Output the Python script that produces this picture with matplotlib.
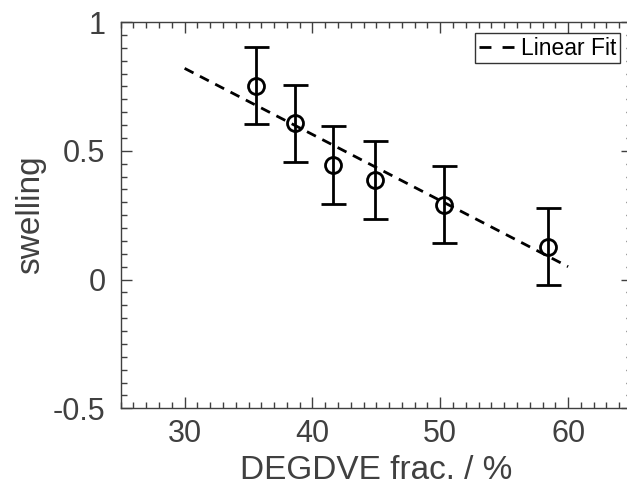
import numpy as np
import matplotlib
matplotlib.use("Agg")
import matplotlib.pyplot as plt
from matplotlib.lines import Line2D
from matplotlib.ticker import MultipleLocator, FuncFormatter

# data
degdve = [35.6, 38.6, 41.6, 44.9, 50.3, 58.4]
swelling = [0.753, 0.607, 0.445, 0.386, 0.290, 0.127]
swelling_err = [0.15, 0.15, 0.15, 0.15, 0.15, 0.15]
fit_x = [30, 60]
fit_y = [0.82, 0.05]

grey = '#404040'
plt.rcParams['font.family'] = ['Liberation Sans', 'DejaVu Sans']
plt.rcParams['axes.unicode_minus'] = False

fig = plt.figure(figsize=(6.27, 5.0), dpi=100)
ax = fig.add_axes([0.1925, 0.1834, 0.8155, 0.7726])

ax.plot(fit_x, fit_y, '--', color='black', lw=2, dashes=(3.6, 2.6))
ax.errorbar(degdve, swelling, yerr=swelling_err, fmt='o', mfc='none', mec='black',
            ms=11.5, mew=2, ecolor='black', elinewidth=2, capsize=9, capthick=2)

ax.set_xlim(25, 65)
ax.set_ylim(-0.5, 1)
ax.xaxis.set_major_locator(MultipleLocator(10))
ax.xaxis.set_minor_locator(MultipleLocator(1))
ax.yaxis.set_major_locator(MultipleLocator(0.5))
ax.yaxis.set_minor_locator(MultipleLocator(0.05))
ax.yaxis.set_major_formatter(FuncFormatter(lambda v, p: f"{v:g}"))

ax.tick_params(which='both', direction='in', top=True, right=True, colors=grey,
               labelsize=22, width=1)
ax.tick_params(which='major', length=8)
ax.tick_params(which='minor', length=4)
ax.tick_params(axis='x', which='major', pad=8)
ax.tick_params(axis='y', which='major', pad=11)
for s in ax.spines.values():
    s.set_color(grey)
    s.set_linewidth(1)

ax.set_xlabel('DEGDVE frac. / %', fontsize=24, color=grey, labelpad=4)
ax.set_ylabel('swelling', fontsize=24, color=grey, labelpad=5)

# legend entry drawn with two longer dashes like the original
fit_handle = Line2D([], [], color='black', lw=2, linestyle='--', dashes=(4.3, 4.0))
leg = ax.legend([fit_handle], ['Linear Fit'], loc='upper right',
                bbox_to_anchor=(0.976, 0.971), fontsize=16.5,
                frameon=True, fancybox=False, handlelength=1.55, borderpad=0.15,
                handletextpad=0.3, borderaxespad=0)
leg.get_frame().set_edgecolor('black')
leg.get_frame().set_linewidth(1)

fig.savefig('out.png', dpi=100)
